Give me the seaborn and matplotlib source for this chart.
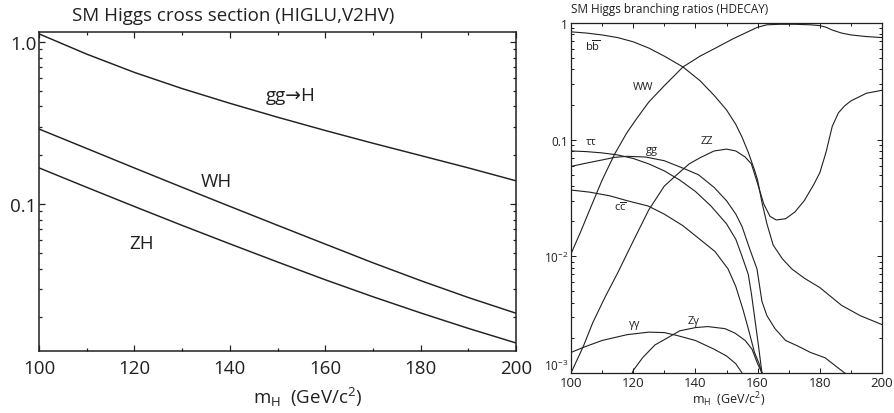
import numpy as np
import pandas as pd
import matplotlib
matplotlib.use('Agg')
import matplotlib.pyplot as plt
from matplotlib.ticker import LogLocator, NullFormatter, MultipleLocator
import seaborn as sns

# ---- left panel: cross sections (pb) ----
mass_xs = [100, 110, 120, 130, 140, 150, 160, 170, 180, 190, 200]
sigma_ggH = [1.12, 0.840, 0.648, 0.515, 0.418, 0.343, 0.284, 0.237, 0.199, 0.167, 0.139]
sigma_WH = [0.29, 0.220, 0.1668, 0.1268, 0.0967, 0.0739, 0.0566, 0.0434, 0.0337, 0.0265, 0.0212]
sigma_ZH = [0.167, 0.1267, 0.0965, 0.0738, 0.0568, 0.0439, 0.0341, 0.0268, 0.0213, 0.0171, 0.0139]

# ---- right panel: branching ratios ----
mass_bb = [100, 105, 110, 115, 120, 125, 130, 136, 141.5, 146, 150, 153, 155, 157, 159, 160,
           161.4, 163, 165, 168, 171, 175, 180, 187, 193, 200]
br_bb = [0.84, 0.82, 0.79, 0.75, 0.69, 0.61, 0.52, 0.42, 0.32, 0.24, 0.18, 0.135, 0.105, 0.078,
         0.055, 0.045, 0.029, 0.019, 0.0125, 0.0095, 0.0078, 0.0065, 0.0054, 0.0038, 0.0031, 0.0026]

mass_ww = [100, 103, 106, 110, 114, 118, 121, 125, 130, 136, 141.5, 147, 152, 156, 160, 163,
           167, 172, 177, 180, 182, 184, 187, 190, 195, 200]
br_ww = [0.0105, 0.016, 0.025, 0.045, 0.075, 0.115, 0.15, 0.21, 0.29, 0.42, 0.52, 0.62, 0.73,
         0.82, 0.92, 0.965, 0.975, 0.975, 0.965, 0.95, 0.92, 0.87, 0.82, 0.79, 0.765, 0.75]

mass_zz = [100, 104, 107, 111, 115, 120, 125, 130, 134, 138, 141.5, 146, 150, 153, 156, 158,
           160, 162, 164, 166, 169, 172, 175, 178, 180, 182, 184, 186, 188, 190, 195, 200]
br_zz = [0.001, 0.0017, 0.0027, 0.0045, 0.0072, 0.0135, 0.025, 0.040, 0.050, 0.062, 0.070,
         0.080, 0.083, 0.080, 0.071, 0.062, 0.042, 0.028, 0.022, 0.0205, 0.021, 0.024, 0.03,
         0.041, 0.052, 0.078, 0.13, 0.17, 0.195, 0.215, 0.25, 0.265]

mass_tt = [100, 105, 110, 115, 120, 125, 130, 135, 140, 145, 150, 153, 155, 157, 158, 159.2,
           160.3, 161.4, 162]
br_tt = [0.080, 0.079, 0.077, 0.074, 0.069, 0.062, 0.054, 0.045, 0.036, 0.027, 0.019, 0.014,
         0.010, 0.007, 0.0048, 0.0028, 0.0017, 0.001, 0.0008]

mass_gg = [100, 105, 110, 114, 118, 124, 130, 136, 141, 146, 150, 153, 155, 157.5, 159.8,
           161.4, 163, 165.6, 169, 173, 177, 181.7, 188, 195, 200]
br_gg = [0.059, 0.063, 0.067, 0.0705, 0.072, 0.071, 0.066, 0.057, 0.05, 0.039, 0.03, 0.023,
         0.018, 0.0115, 0.0078, 0.0041, 0.0031, 0.0024, 0.0019, 0.0017, 0.0015, 0.00135, 0.001,
         0.0008, 0.0007]

mass_cc = [100, 106, 112.5, 118, 124.8, 130, 136, 141, 146.3, 150.5, 153, 155.3, 157, 159,
           160.5, 161.4, 162]
br_cc = [0.037, 0.0355, 0.033, 0.030, 0.027, 0.023, 0.0183, 0.0143, 0.011, 0.0078, 0.0055,
         0.0035, 0.0024, 0.0015, 0.0012, 0.001, 0.0008]

mass_aa = [100, 104, 110, 118, 125, 130, 134, 140, 146, 150, 153, 155, 156]
br_aa = [0.0015, 0.00166, 0.0019, 0.00213, 0.00224, 0.00222, 0.0021, 0.0019, 0.0016, 0.0014,
         0.0012, 0.001, 0.0009]

mass_za = [119, 120, 123, 127, 131, 135, 140, 144, 149.5, 152.7, 156, 158.2, 160, 161.4, 162]
br_za = [0.0009, 0.00105, 0.00135, 0.00174, 0.002, 0.0023, 0.00245, 0.0025, 0.0024, 0.0022,
         0.0019, 0.0016, 0.0012, 0.001, 0.0008]

sns.set_theme(style='ticks')
plt.rcParams['font.family'] = ['Open Sans', 'DejaVu Sans']
plt.rcParams['mathtext.fontset'] = 'custom'
plt.rcParams['mathtext.rm'] = 'Open Sans'
plt.rcParams['mathtext.it'] = 'Open Sans:italic'
plt.rcParams['mathtext.bf'] = 'Open Sans:bold'

ink = '#231f20'
W, H = 895, 414
fig = plt.figure(figsize=(W / 100, H / 100), dpi=100)
fig.patch.set_facecolor('white')


def px_axes(x0, y0, x1, y1):
    return fig.add_axes([x0 / W, 1 - y1 / H, (x1 - x0) / W, (y1 - y0) / H])


def style_axes(ax, lw, fs, major, minor):
    for s in ax.spines.values():
        s.set_linewidth(lw)
        s.set_color(ink)
    ax.tick_params(which='both', direction='in', top=True, right=True, colors=ink,
                   width=lw * 0.8, labelsize=fs, labelcolor=ink)
    ax.tick_params(which='major', length=major)
    ax.tick_params(which='minor', length=minor)
    ax.set_facecolor('white')


# ---------------- left panel ----------------
axl = px_axes(39, 33, 516, 352)
xs = pd.DataFrame({'m': mass_xs, 'ggH': sigma_ggH, 'WH': sigma_WH, 'ZH': sigma_ZH})
for col in ['ggH', 'WH', 'ZH']:
    sns.lineplot(data=xs, x='m', y=col, ax=axl, color=ink, lw=1.05)
axl.set_yscale('log')
axl.set_xlim(100, 200)
axl.set_ylim(0.0124, 1.15)
axl.set_xticks([100, 120, 140, 160, 180, 200])
axl.xaxis.set_minor_locator(MultipleLocator(10))
axl.set_yticks([0.1, 1.0], ['0.1', '1.0'])
axl.yaxis.set_minor_locator(LogLocator(subs=np.arange(2, 10)))
axl.yaxis.set_minor_formatter(NullFormatter())
axl.set_xlabel('')
axl.set_ylabel('')
style_axes(axl, 1.1, 13.5, 4, 2.5)
axl.tick_params(axis='x', pad=6)
axl.tick_params(axis='y', pad=2)

lab = dict(color=ink, fontsize=13.5, ha='center', va='center')
axl.text(152.8, 0.471, 'gg\u2192H', **lab)
axl.text(137.1, 0.139, 'WH', **lab)
axl.text(121.4, 0.0574, 'ZH', **lab)

fig.text(233 / W, 1 - 16 / H, 'SM Higgs cross section (HIGLU,V2HV)', color=ink,
         fontsize=13.5, ha='center', va='center')
fig.text(308 / W, 1 - 397 / H, r'm$_\mathrm{H}$  (GeV/c$^\mathrm{2}$)', color=ink,
         fontsize=13.5, ha='center', va='center')

# ---------------- right panel ----------------
axr = px_axes(571, 24, 882, 374)
curves = [(mass_bb, br_bb), (mass_ww, br_ww), (mass_zz, br_zz), (mass_tt, br_tt),
          (mass_gg, br_gg), (mass_cc, br_cc), (mass_aa, br_aa), (mass_za, br_za)]
for mx, my in curves:
    sns.lineplot(x=mx, y=my, ax=axr, color=ink, lw=0.8)
axr.set_yscale('log')
axr.set_xlim(100, 200)
axr.set_ylim(1e-3, 1)
axr.set_xticks([100, 120, 140, 160, 180, 200])
axr.xaxis.set_minor_locator(MultipleLocator(10))
axr.set_yticks([1e-3, 1e-2, 0.1, 1], [r'10$^{-3}$', r'10$^{-2}$', '0.1', '1'])
axr.yaxis.set_minor_locator(LogLocator(subs=np.arange(2, 10)))
axr.yaxis.set_minor_formatter(NullFormatter())
style_axes(axr, 0.9, 9.5, 3.5, 2)
axr.tick_params(axis='x', pad=2)
axr.tick_params(axis='y', pad=2, labelsize=8.5)
# lift the bottom label a little so it clears the "100" below it
axr.get_yticklabels()[0].set_verticalalignment('bottom')

rl = dict(color=ink, fontsize=8, ha='center', va='center')
axr.text(107.1, 0.635, r'b$\overline{\mathrm{b}}$', **rl)
axr.text(123.2, 0.283, 'WW', **rl)
axr.text(143.7, 0.0975, 'ZZ', **rl)
axr.text(106.4, 0.0955, '\u03c4\u03c4', **rl)
axr.text(126.0, 0.0816, 'gg', **rl)
axr.text(115.8, 0.0265, r'c$\overline{\mathrm{c}}$', **rl)
axr.text(120.6, 0.00264, '\u03b3\u03b3', **rl)
axr.text(139.5, 0.0028, 'Z\u03b3', **rl)

fig.text(670 / W, 1 - 10 / H, 'SM Higgs branching ratios (HDECAY)', color=ink,
         fontsize=8.5, ha='center', va='center')
fig.text(729 / W, 1 - 400 / H, r'm$_\mathrm{H}$  (GeV/c$^\mathrm{2}$)', color=ink,
         fontsize=9, ha='center', va='center')

fig.savefig('out.png', dpi=100, facecolor='white')
